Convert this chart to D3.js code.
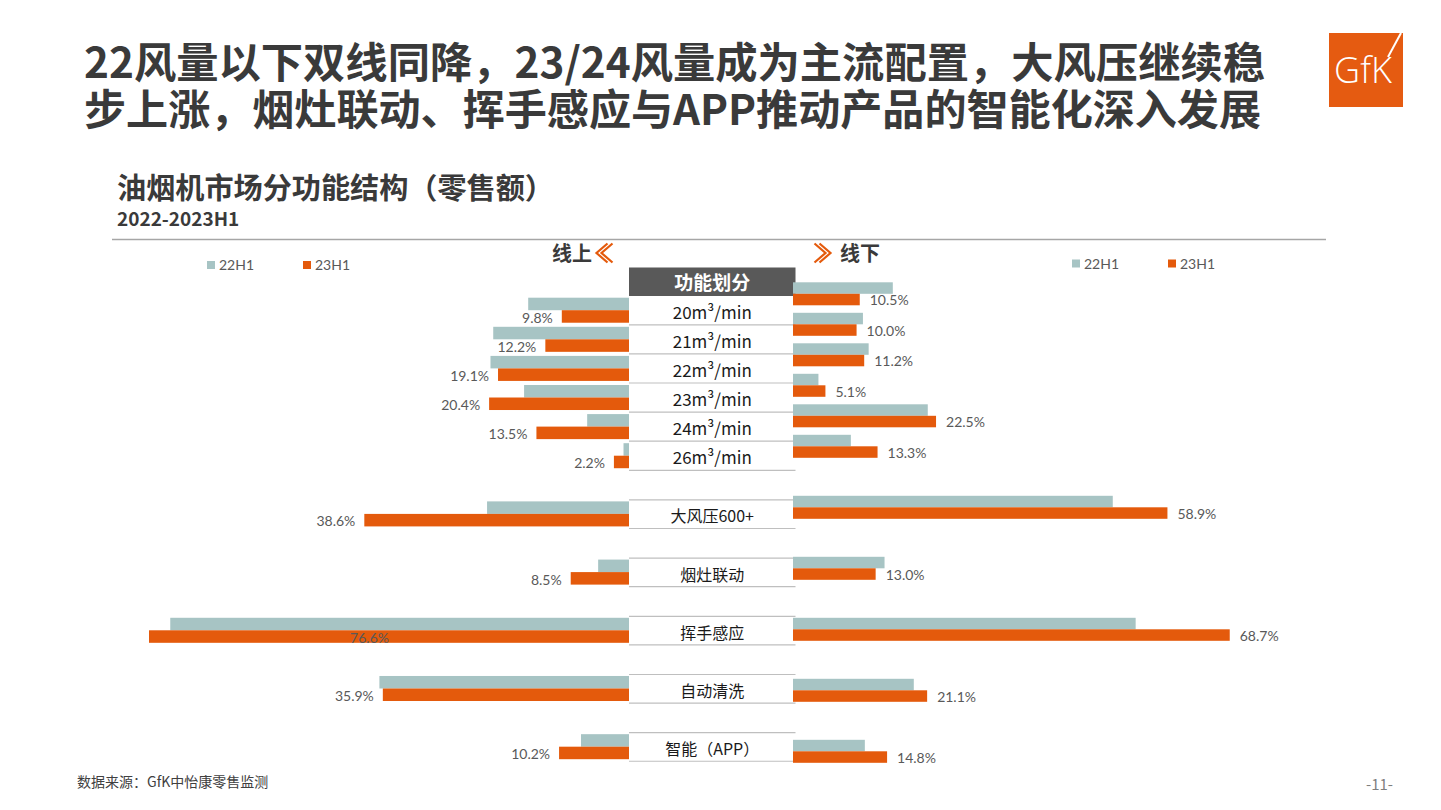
<!DOCTYPE html>
<html>
<head>
<meta charset="utf-8">
<script src="https://cdn.jsdelivr.net/npm/d3@7"></script>
<style>
  html, body { margin: 0; padding: 0; background: #fff; }
  svg { display: block; }
</style>
</head>
<body>
<div id="chart"></div>
<script>
// ---------------- data ----------------
const categories = ["20m³/min", "21m³/min", "22m³/min", "23m³/min", "24m³/min", "26m³/min",
                    "大风压600+", "烟灶联动", "挥手感应", "自动清洗", "智能（APP）"];
const seriesNames = ["22H1", "23H1"];
const online22  = [14.7, 19.8, 20.2, 15.3, 6.1, 0.8, 20.7, 4.5, 66.9, 36.4, 7.0];
const online23  = [9.8, 12.2, 19.1, 20.4, 13.5, 2.2, 38.6, 8.5, 76.6, 35.9, 10.2];
const offline22 = [15.7, 11.0, 11.9, 4.0, 21.2, 9.1, 50.3, 14.4, 53.9, 19.0, 11.3];
const offline23 = [10.5, 10.0, 11.2, 5.1, 22.5, 13.3, 58.9, 13.0, 68.7, 21.1, 14.8];
const titleLines = ["22风量以下双线同降，23/24风量成为主流配置，大风压继续稳",
                    "步上涨，烟灶联动、挥手感应与APP推动产品的智能化深入发展"];
const subTitle = "油烟机市场分功能结构（零售额）";
const period = "2022-2023H1";
const tableHeader = "功能划分";
const sideLabels = ["线上", "线下"];
const source = "数据来源：GfK中怡康零售监测";
const pageNo = "-11-";

// ---------------- setup ----------------
const W = 1441, H = 810;
const colors = { "22H1": "#a7c4c4", "23H1": "#e45a0c" };
const textGray = "#595959";
const cjk = "'Noto Sans CJK SC', 'Noto Sans', sans-serif";
const lato = "Lato, 'Noto Sans', sans-serif";

const svg = d3.select("#chart").append("svg").attr("width", W).attr("height", H);

// title (one text block, two lines)
const title = svg.append("text")
  .attr("font-family", cjk).attr("font-weight", 700).attr("font-size", 42)
  .attr("fill", "#3a3a3a");
title.selectAll("tspan").data(titleLines).enter().append("tspan")
  .attr("x", 84).attr("y", (d, i) => 78 + i * 47)
  .attr("textLength", (d, i) => i === 0 ? 1181 : 1177)
  .attr("lengthAdjust", "spacingAndGlyphs")
  .text(d => d);

// GfK logo
const logo = svg.append("g");
logo.append("rect").attr("x", 1329).attr("y", 33).attr("width", 74).attr("height", 74).attr("fill", "#e55b11");
logo.append("text").attr("x", 1363).attr("y", 83).attr("text-anchor", "middle")
  .attr("font-family", "'Open Sans', sans-serif").attr("font-weight", 300).attr("font-size", 36)
  .attr("fill", "#fff").text("GfK");
logo.append("line").attr("x1", 1388).attr("y1", 57).attr("x2", 1401).attr("y2", 33)
  .attr("stroke", "#fff").attr("stroke-width", 2);

// subtitle + period (one text block)
const sub = svg.append("text").attr("font-family", cjk).attr("font-weight", 700).attr("fill", "#3a3a3a");
sub.append("tspan").attr("x", 117).attr("y", 199).attr("font-size", 29)
  .attr("textLength", 437).attr("lengthAdjust", "spacingAndGlyphs").text(subTitle);
sub.append("tspan").attr("x", 117).attr("y", 226).attr("font-size", 19).text(period);
svg.append("line").attr("x1", 112).attr("x2", 1326).attr("y1", 239.5).attr("y2", 239.5)
  .attr("stroke", "#a6a6a6").attr("stroke-width", 1.5);

// ---------------- scales ----------------
const slots = [];
categories.forEach((c, i) => { if (i >= 6) slots.push("gap" + i); slots.push(c); });

const centerL = 629, centerR = 793;
const xL = d3.scaleLinear().domain([0, 70]).range([centerL, centerL - 480]).clamp(true);
const xR = d3.scaleLinear().domain([0, 70]).range([centerR, centerR + 445]).clamp(true);

const yL = d3.scaleBand().domain(slots).range([297.7, 759.2]).paddingInner(0.14).paddingOuter(0);
const yR = d3.scaleBand().domain(slots).range([282.3, 762.8]).paddingInner(0.246).paddingOuter(0);
const subL = d3.scaleBand().domain(seriesNames).range([0, yL.bandwidth()]);
const subR = d3.scaleBand().domain(seriesNames).range([0, yR.bandwidth()]);

const leftData = categories.map((c, i) => ({ cat: c, vals: [online22[i], online23[i]] }));
const rightData = categories.map((c, i) => ({ cat: c, vals: [offline22[i], offline23[i]] }));

// ---------------- center table (drawn first, bars on top) ----------------
const tX0 = 629, tX1 = 795.5;
const tMid = (tX0 + tX1) / 2;
const gT = svg.append("g");
gT.append("rect").attr("x", tX0).attr("y", 267.5).attr("width", tX1 - tX0).attr("height", 28.5)
  .attr("fill", "#595959");
gT.append("text").attr("x", tMid).attr("y", 289.5).attr("text-anchor", "middle")
  .attr("font-family", cjk).attr("font-weight", 700).attr("font-size", 19).attr("fill", "#fff")
  .text(tableHeader);

categories.forEach((c, i) => {
  const top = yL(c) - 1.5;
  const h = yL.step();
  if (i >= 6) {
    gT.append("line").attr("x1", tX0).attr("x2", tX1).attr("y1", top).attr("y2", top)
      .attr("stroke", "#bfbfbf").attr("stroke-width", 1.2);
  }
  gT.append("line").attr("x1", tX0).attr("x2", tX1).attr("y1", top + h - 0.5).attr("y2", top + h - 0.5)
    .attr("stroke", "#bfbfbf").attr("stroke-width", 1.2);
  gT.append("text").attr("x", tMid).attr("y", top + h / 2 + 8)
    .attr("text-anchor", "middle")
    .attr("font-family", cjk).attr("font-size", i < 6 ? 17 : 16).attr("fill", "#1a1a1a")
    .text(c);
});

// ---------------- left (online) ----------------
const gL = svg.append("g");
leftData.forEach(d => {
  seriesNames.forEach((s, k) => {
    const v = d.vals[k];
    gL.append("rect")
      .attr("x", xL(v)).attr("y", yL(d.cat) + subL(s))
      .attr("width", centerL - xL(v)).attr("height", subL.bandwidth())
      .attr("fill", colors[s]);
  });
  const v = d.vals[1];
  const clamped = v > xL.domain()[1];
  const bottom = yL(d.cat) + subL("23H1") + subL.bandwidth();
  gL.append("text")
    .attr("x", clamped ? (xL(v) + centerL) / 2 : xL(v) - 9)
    .attr("y", bottom)
    .attr("text-anchor", "end")
    .attr("font-family", lato).attr("font-size", 14).attr("fill", textGray)
    .text(d3.format(".1f")(v) + "%");
});

// ---------------- right (offline) ----------------
const gR = svg.append("g");
rightData.forEach(d => {
  seriesNames.forEach((s, k) => {
    const v = d.vals[k];
    gR.append("rect")
      .attr("x", centerR).attr("y", yR(d.cat) + subR(s))
      .attr("width", xR(v) - centerR).attr("height", subR.bandwidth())
      .attr("fill", colors[s]);
  });
  const v = d.vals[1];
  const bottom = yR(d.cat) + subR("23H1") + subR.bandwidth();
  gR.append("text")
    .attr("x", xR(v) + 10)
    .attr("y", bottom)
    .attr("font-family", lato).attr("font-size", 14).attr("fill", textGray)
    .text(d3.format(".1f")(v) + "%");
});

// ---------------- side headers ----------------
const orange = colors["23H1"];
svg.append("text").attr("x", 552).attr("y", 261)
  .attr("font-family", cjk).attr("font-weight", 700).attr("font-size", 20).attr("fill", "#3a3a3a")
  .text(sideLabels[0]);
svg.append("text").attr("x", 840).attr("y", 261)
  .attr("font-family", cjk).attr("font-weight", 700).attr("font-size", 20).attr("fill", "#3a3a3a")
  .text(sideLabels[1]);
function chevron(tipX, dir) {
  [0, 5].forEach(off => {
    const tx = tipX - dir * off;
    const p = d3.path();
    p.moveTo(tx - dir * 11, 243.5);
    p.lineTo(tx, 253);
    p.lineTo(tx - dir * 11, 262.5);
    svg.append("path").attr("d", p.toString()).attr("fill", "none")
      .attr("stroke", orange).attr("stroke-width", 2.2);
  });
}
chevron(596.5, -1);
chevron(830.5, 1);

// ---------------- legends ----------------
function legend(x0, y0) {
  seriesNames.forEach((s, i) => {
    const gx = x0 + i * 96;
    svg.append("rect").attr("x", gx).attr("y", y0).attr("width", 8).attr("height", 8).attr("fill", colors[s]);
    svg.append("text").attr("x", gx + 12).attr("y", y0 + 9)
      .attr("font-family", lato).attr("font-size", 14).attr("fill", textGray).text(s);
  });
}
legend(207, 261);
legend(1072, 259.5);

// ---------------- footer ----------------
svg.append("text").attr("x", 77).attr("y", 787)
  .attr("font-family", cjk).attr("font-size", 14).attr("fill", "#404040").text(source);
svg.append("text").attr("x", 1366).attr("y", 790)
  .attr("font-family", cjk).attr("font-size", 15).attr("fill", "#7f7f7f").text(pageNo);
</script>
</body>
</html>
